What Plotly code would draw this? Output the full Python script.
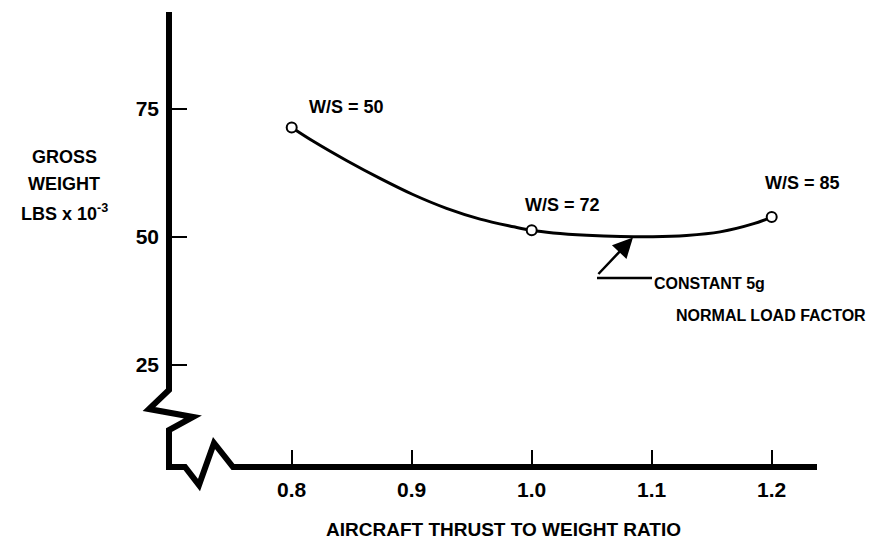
import plotly.graph_objects as go

# thrust-to-weight ratio vs gross weight (lbs x 1e-3), constant 5g normal load factor
curve_tw = [0.80, 0.818, 0.846, 0.874, 0.901, 0.929, 0.957, 0.985, 1.00,
            1.018, 1.046, 1.074, 1.101, 1.129, 1.157, 1.185, 1.20]
curve_gw = [71.4, 68.7, 64.9, 61.4, 58.3, 55.6, 53.5, 52.0, 51.3,
            50.8, 50.35, 50.1, 50.05, 50.3, 51.0, 52.6, 53.9]

point_tw = [0.8, 1.0, 1.2]
point_gw = [71.4, 51.3, 53.9]
point_labels = ["W/S = 50", "W/S = 72", "W/S = 85"]

x_ticks = [0.8, 0.9, 1.0, 1.1, 1.2]
x_ticktext = ["0.8", "0.9", "1.0", "1.1", "1.2"]
y_ticks = [25, 50, 75]
y_ticktext = ["25", "50", "75"]

# the page adds an 8px body margin, so the figure is shrunk by that on each side
OFF = 8
W, H = 884 - 2 * OFF, 549 - 2 * OFF
FONT = "Liberation Sans, Arial, sans-serif"


def fx(x):
    return (x - OFF) / W


def fy(y):
    return 1 - (y - OFF) / H


def font(size):
    return dict(family=FONT, size=size, color="black", weight="bold")


# scale calibration: 0.8 at page x 291.7, 0.1 per 120px; 50 at page y 237, 25 per 128px
x_lo = 0.8 - (291.7 - OFF) / 1200
x_hi = 0.8 + (884 - OFF - 291.7) / 1200
y_hi = 50 + (237 - OFF) / 5.12
y_lo = 50 - (549 - OFF - 237) / 5.12

# hand-drawn axes with break symbols (page pixel positions)
axis_pts = [(169, 12), (169, 390), (149, 409), (193, 417), (169, 430), (169, 467),
            (185, 467), (199, 485), (214, 443), (233, 467), (817, 467)]
path = ""
for i, (a, b) in enumerate(axis_pts):
    path += ("M" if i == 0 else "L") + f"{fx(a):.5f},{fy(b):.5f} "

fig = go.Figure()

fig.add_trace(go.Scatter(
    x=curve_tw, y=curve_gw, mode="lines",
    line=dict(color="black", width=3, shape="spline", smoothing=1.0),
    hoverinfo="skip", showlegend=False
))

fig.add_trace(go.Scatter(
    x=point_tw, y=point_gw, mode="markers",
    marker=dict(symbol="circle", size=10, color="white",
                line=dict(color="black", width=2)),
    showlegend=False
))

label_shift = [(15, 8), (-9, 13), (-9, 22)]
for tw, gw, txt, (dx, dy) in zip(point_tw, point_gw, point_labels, label_shift):
    fig.add_annotation(x=tw, y=gw, text=txt, showarrow=False,
                       xanchor="left", yanchor="bottom", xshift=dx, yshift=dy,
                       font=font(18))

# leader to the curve
fig.add_annotation(x=1.0844, y=49.9, ax=-36, ay=38,
                   text="", showarrow=True, arrowhead=2, arrowsize=1.6,
                   arrowwidth=2.5, arrowcolor="black")
fig.add_shape(type="line", xref="paper", yref="paper",
              x0=fx(597), y0=fy(278), x1=fx(652), y1=fy(278),
              line=dict(color="black", width=2.5))

fig.add_annotation(xref="paper", yref="paper", x=fx(652), y=fy(283),
                   text="CONSTANT 5g", showarrow=False,
                   xanchor="left", yanchor="middle", font=font(16))
fig.add_annotation(xref="paper", yref="paper", x=fx(674), y=fy(315),
                   text="NORMAL LOAD FACTOR", showarrow=False,
                   xanchor="left", yanchor="middle", font=font(16))

for txt, yy in [("GROSS", 157), ("WEIGHT", 184), ("LBS x 10<sup>-3</sup>", 212)]:
    fig.add_annotation(xref="paper", yref="paper", x=fx(64), y=fy(yy),
                       text=txt, showarrow=False, xanchor="center", yanchor="middle",
                       font=font(18))

fig.add_annotation(xref="paper", yref="paper", x=fx(503), y=fy(529),
                   text="AIRCRAFT THRUST TO WEIGHT RATIO",
                   showarrow=False, xanchor="center", yanchor="middle",
                   font=font(19))

fig.add_shape(type="path", xref="paper", yref="paper", path=path.strip(),
              line=dict(color="black", width=6), layer="above")

fig.update_layout(
    width=W, height=H,
    margin=dict(l=0, r=0, t=0, b=0),
    paper_bgcolor="white", plot_bgcolor="white",
    xaxis=dict(range=[x_lo, x_hi], anchor="free", position=fy(467),
               tickvals=x_ticks, ticktext=x_ticktext, ticks="inside",
               ticklen=17, tickwidth=2, tickcolor="black", ticklabelstandoff=8,
               showline=False, showgrid=False, zeroline=False,
               tickfont=font(21), automargin=False, fixedrange=True),
    yaxis=dict(range=[y_lo, y_hi], anchor="free", position=fx(169),
               tickvals=y_ticks, ticktext=y_ticktext, ticks="inside",
               ticklen=17, tickwidth=2, tickcolor="black", ticklabelstandoff=10,
               showline=False, showgrid=False, zeroline=False,
               tickfont=font(21), automargin=False, fixedrange=True),
)

fig.write_html("out.html")
